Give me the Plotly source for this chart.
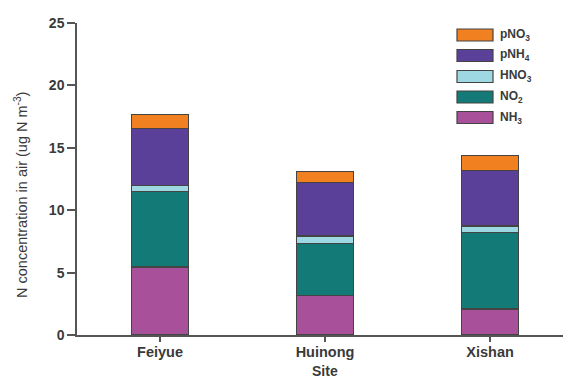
import plotly.graph_objects as go

sites = ["Feiyue", "Huinong", "Xishan"]
species = ["NH3", "NO2", "HNO3", "pNH4", "pNO3"]
labels = ["NH<sub>3</sub>", "NO<sub>2</sub>", "HNO<sub>3</sub>", "pNH<sub>4</sub>", "pNO<sub>3</sub>"]
nh3 = [5.45, 3.14, 2.08]
no2 = [6.03, 4.18, 6.12]
hno3 = [0.52, 0.61, 0.53]
pnh4 = [4.53, 4.26, 4.45]
pno3 = [1.15, 0.91, 1.20]
colors = ["#A8509A", "#137A78", "#9ED8E2", "#5A4099", "#F08020"]
values = [nh3, no2, hno3, pnh4, pno3]

W, H = 563, 380
L, R, T, B = 77, 0, 23, 45
FONT = "Liberation Sans, Arial"

fig = go.Figure()
for name, vals, col in zip(species, values, colors):
    fig.add_trace(go.Bar(x=sites, y=vals, name=name, marker=dict(color=col, line=dict(color="#444", width=1.2)),
                         width=0.345, showlegend=False))

def px(x):
    return (x - L) / (W - L - R)

def py(y):
    return (H - B - y) / (H - T - B)

# manual legend (top to bottom: pNO3, pNH4, HNO3, NO2, NH3)
ys = [117.5, 97, 76.5, 55.5, 35]
for lab, col, yc in zip(labels, colors, ys):
    fig.add_shape(type="rect", xref="paper", yref="paper",
                  x0=px(457), x1=px(493), y0=py(yc + 6), y1=py(yc - 6),
                  fillcolor=col, line=dict(color="#444", width=1.2))
    fig.add_annotation(xref="paper", yref="paper", x=px(498), y=py(yc), text="<b>" + lab + "</b>",
                       showarrow=False, xanchor="left", yanchor="middle",
                       font=dict(family=FONT, size=12, color="#3a3a3a"))

# axis titles
fig.add_annotation(xref="paper", yref="paper", x=px(21), y=py(195),
                   text="N concentration in air (ug N m<sup>-3</sup>)", textangle=-90,
                   showarrow=False, xanchor="center", yanchor="middle",
                   font=dict(family=FONT, size=14.5, color="#3a3a3a"))
fig.add_annotation(xref="paper", yref="paper", x=px(325), y=py(381),
                   text="<b>Site</b>", showarrow=False, xanchor="center", yanchor="bottom",
                   font=dict(family=FONT, size=14, color="#3a3a3a"))

fig.update_layout(
    barmode="stack",
    width=W, height=H,
    margin=dict(l=L, r=R, t=T, b=B, autoexpand=False),
    plot_bgcolor="white", paper_bgcolor="white",
    font=dict(family=FONT, color="#333"),
    xaxis=dict(range=[-0.503, 2.442], showline=True, linecolor="#555", linewidth=1.5,
               ticks="outside", ticklen=5, tickcolor="#555", tickwidth=1.5,
               tickfont=dict(size=14.5, color="#3a3a3a", weight="bold"), automargin=False,
               ticklabelstandoff=-2,
               showgrid=False, zeroline=False),
    yaxis=dict(range=[0, 25], dtick=5, showline=True, linecolor="#555", linewidth=1.5,
               ticks="outside", ticklen=8, tickcolor="#555", tickwidth=1.5,
               tickfont=dict(size=14, color="#3a3a3a", weight="bold"), automargin=False,
               showgrid=False, zeroline=False),
)
fig.write_html("out.html")
